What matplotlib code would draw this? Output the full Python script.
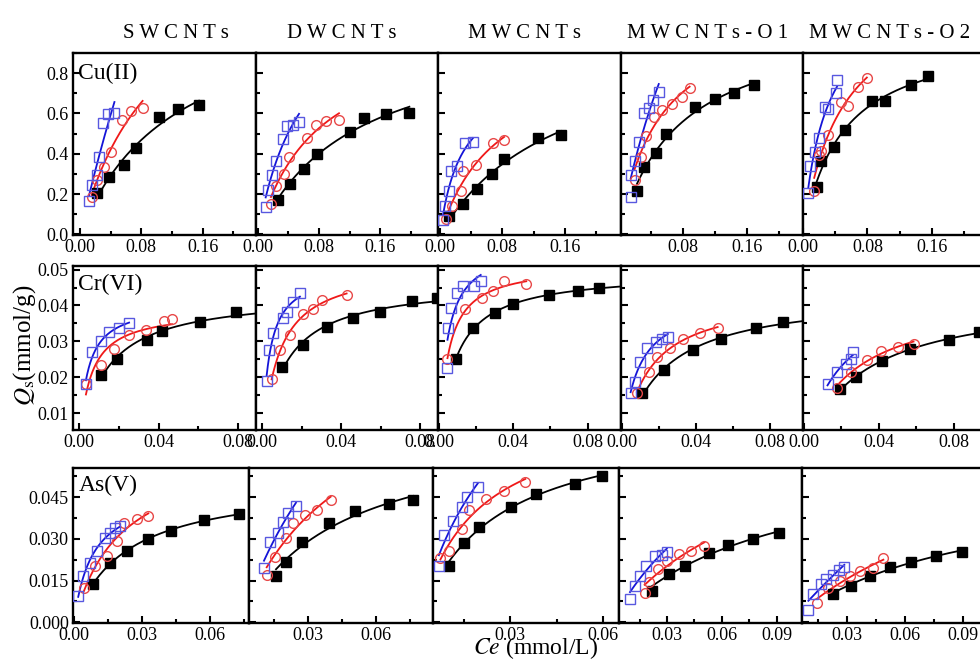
import numpy as np
import matplotlib.pyplot as plt
from matplotlib.ticker import MultipleLocator, FormatStrFormatter

plt.rcParams['font.family'] = 'Liberation Serif'
plt.rcParams['mathtext.fontset'] = 'stix'

tubes = ['S W C N T s', 'D W C N T s', 'M W C N T s', 'M W C N T s - O 1', 'M W C N T s - O 2']
ions = ['Cu(II)', 'Cr(VI)', 'As(V)']

# Ce (mmol/L) and Qs (mmol/g), one inner list per tube type
cu_black_x = [[0.0227, 0.038, 0.0577, 0.073, 0.1036, 0.1276, 0.1551],
              [0.0267, 0.042, 0.0608, 0.077, 0.1207, 0.1394, 0.1679, 0.1985],
              [0.012, 0.030, 0.0474, 0.0663, 0.0822, 0.126, 0.1555],
              [0.0225, 0.0313, 0.0466, 0.0585, 0.0949, 0.12, 0.144, 0.1686],
              [0.017, 0.0226, 0.0388, 0.0523, 0.0858, 0.102, 0.1338, 0.1555]]
cu_black_y = [[0.206, 0.283, 0.346, 0.428, 0.581, 0.621, 0.641],
              [0.169, 0.252, 0.326, 0.398, 0.510, 0.576, 0.598, 0.604],
              [0.090, 0.152, 0.226, 0.300, 0.375, 0.478, 0.495],
              [0.214, 0.332, 0.403, 0.499, 0.634, 0.670, 0.700, 0.741],
              [0.234, 0.365, 0.436, 0.519, 0.662, 0.662, 0.741, 0.785]]
cu_red_x = [[0.0153, 0.0227, 0.0315, 0.0402, 0.0555, 0.066, 0.0817],
            [0.017, 0.0236, 0.034, 0.041, 0.0647, 0.076, 0.0892, 0.1062],
            [0.0075, 0.0152, 0.0265, 0.030, 0.046, 0.0677, 0.0822],
            [0.0194, 0.0273, 0.0333, 0.0435, 0.0536, 0.0668, 0.0786, 0.0883],
            [0.0139, 0.0196, 0.0226, 0.0313, 0.0466, 0.0553, 0.0683, 0.0793]]
cu_red_y = [[0.186, 0.272, 0.332, 0.411, 0.568, 0.612, 0.626],
            [0.152, 0.239, 0.301, 0.384, 0.478, 0.543, 0.563, 0.568],
            [0.074, 0.140, 0.214, 0.313, 0.346, 0.453, 0.469],
            [0.272, 0.384, 0.490, 0.584, 0.617, 0.647, 0.683, 0.724],
            [0.214, 0.395, 0.416, 0.494, 0.655, 0.639, 0.732, 0.774]]
cu_blue_x = [[0.0118, 0.0161, 0.0227, 0.0249, 0.0306, 0.0371, 0.045],
             [0.0101, 0.0135, 0.0188, 0.0236, 0.0323, 0.0376, 0.0463, 0.0538],
             [0.0039, 0.006, 0.012, 0.0142, 0.0219, 0.0324, 0.0423],
             [0.0146, 0.0150, 0.0204, 0.0256, 0.0313, 0.037, 0.0431, 0.0497],
             [0.0065, 0.0087, 0.0153, 0.0196, 0.027, 0.0313, 0.0413, 0.0422]]
cu_blue_y = [[0.165, 0.247, 0.296, 0.384, 0.555, 0.598, 0.604],
             [0.137, 0.222, 0.296, 0.365, 0.474, 0.540, 0.543, 0.560],
             [0.069, 0.140, 0.214, 0.313, 0.341, 0.453, 0.456],
             [0.186, 0.296, 0.362, 0.456, 0.604, 0.626, 0.667, 0.708],
             [0.206, 0.341, 0.411, 0.477, 0.634, 0.621, 0.700, 0.765]]

cr_black_x = [[0.011, 0.0193, 0.034, 0.0418, 0.061, 0.079],
              [0.0100, 0.0206, 0.0327, 0.0461, 0.0596, 0.0761, 0.0883],
              [0.0093, 0.0181, 0.030, 0.0398, 0.0592, 0.0748, 0.0859],
              [0.011, 0.0229, 0.0385, 0.0536, 0.0722, 0.0868],
              [0.0195, 0.028, 0.0417, 0.0567, 0.0777, 0.0936]]
cr_black_y = [[0.0207, 0.0252, 0.0304, 0.0329, 0.0353, 0.0381],
              [0.0229, 0.0291, 0.0339, 0.0364, 0.0381, 0.0413, 0.0422],
              [0.0251, 0.0338, 0.0378, 0.0403, 0.0429, 0.0441, 0.0450],
              [0.0157, 0.022, 0.0276, 0.0306, 0.0336, 0.0355],
              [0.0168, 0.0201, 0.0245, 0.0278, 0.0304, 0.0327]]
cr_red_x = [[0.0035, 0.011, 0.0177, 0.0252, 0.0335, 0.0427, 0.0468],
            [0.0049, 0.0091, 0.0142, 0.0206, 0.026, 0.0302, 0.0428],
            [0.0046, 0.014, 0.023, 0.0291, 0.0351, 0.047],
            [0.0081, 0.0148, 0.0191, 0.0262, 0.0328, 0.0423, 0.0517],
            [0.0176, 0.0251, 0.0336, 0.0411, 0.0505, 0.0586]]
cr_red_y = [[0.0182, 0.0234, 0.0278, 0.0317, 0.0331, 0.0357, 0.0362],
            [0.0195, 0.0276, 0.0318, 0.0376, 0.0389, 0.0415, 0.0429],
            [0.0251, 0.0389, 0.0422, 0.0439, 0.0467, 0.0459],
            [0.0157, 0.0215, 0.0257, 0.0282, 0.0306, 0.0322, 0.0338],
            [0.017, 0.0215, 0.0248, 0.0272, 0.0285, 0.0294]]
cr_blue_x = [[0.0035, 0.0068, 0.011, 0.0152, 0.0202, 0.0252],
             [0.0024, 0.0037, 0.0057, 0.0105, 0.0125, 0.0158, 0.0192],
             [0.0046, 0.0049, 0.0064, 0.0099, 0.013, 0.0187, 0.0225],
             [0.0047, 0.0072, 0.0096, 0.0138, 0.0185, 0.0214, 0.0248],
             [0.0126, 0.0176, 0.0224, 0.0251, 0.0261]]
cr_blue_y = [[0.0182, 0.0269, 0.0302, 0.0325, 0.0337, 0.035],
             [0.0189, 0.0276, 0.0322, 0.0366, 0.0383, 0.0411, 0.0434],
             [0.0225, 0.0336, 0.0394, 0.0434, 0.0453, 0.0453, 0.0468],
             [0.0157, 0.0187, 0.0243, 0.0282, 0.0299, 0.0306, 0.0313],
             [0.018, 0.0215, 0.0238, 0.0252, 0.0271]]

as_black_x = [[0.0085, 0.0159, 0.0232, 0.0325, 0.0428, 0.0575, 0.0729],
              [0.0159, 0.0203, 0.0272, 0.0394, 0.0507, 0.0657, 0.0764],
              [0.0102, 0.0148, 0.0199, 0.0302, 0.0382, 0.0508, 0.0597],
              [0.0217, 0.0309, 0.04, 0.0529, 0.0634, 0.0768, 0.0912],
              [0.0229, 0.0319, 0.0419, 0.0523, 0.0631, 0.076, 0.0897]]
as_black_y = [[0.0138, 0.0212, 0.0257, 0.0299, 0.033, 0.0367, 0.0389],
              [0.0168, 0.0215, 0.0287, 0.0356, 0.04, 0.0425, 0.0439],
              [0.0204, 0.0285, 0.0344, 0.0415, 0.0463, 0.0499, 0.0525],
              [0.0112, 0.0175, 0.0204, 0.0249, 0.0279, 0.0299, 0.032],
              [0.01, 0.013, 0.0168, 0.0199, 0.0217, 0.0239, 0.0253]]
as_red_x = [[0.0044, 0.0093, 0.0144, 0.0188, 0.0221, 0.0277, 0.0328],
            [0.0118, 0.0154, 0.0203, 0.0235, 0.0287, 0.0341, 0.04],
            [0.0073, 0.0102, 0.0142, 0.0167, 0.022, 0.0279, 0.0348],
            [0.0178, 0.0203, 0.0251, 0.0299, 0.0366, 0.0433, 0.0504],
            [0.0146, 0.0203, 0.0264, 0.0316, 0.0367, 0.0436, 0.0488]]
as_red_y = [[0.0124, 0.0201, 0.0237, 0.0294, 0.0356, 0.0371, 0.0383],
            [0.0171, 0.0235, 0.0303, 0.0358, 0.0386, 0.0404, 0.0439],
            [0.0231, 0.0258, 0.0335, 0.0404, 0.0442, 0.0473, 0.0505],
            [0.0104, 0.0144, 0.0192, 0.0219, 0.0246, 0.0258, 0.0275],
            [0.0068, 0.0124, 0.0148, 0.0165, 0.0183, 0.0195, 0.0231]]
as_blue_x = [[0.0019, 0.0038, 0.0071, 0.0103, 0.0137, 0.0159, 0.0181, 0.0203],
             [0.0106, 0.0132, 0.0169, 0.0188, 0.0213, 0.0247],
             [0.0068, 0.0085, 0.0113, 0.0142, 0.0159, 0.0194],
             [0.0098, 0.0127, 0.0155, 0.0184, 0.0232, 0.0271, 0.0299],
             [0.010, 0.0123, 0.0164, 0.0191, 0.0229, 0.026, 0.0286]]
as_blue_y = [[0.0096, 0.0168, 0.0213, 0.0255, 0.0303, 0.0321, 0.0338, 0.0346],
             [0.0195, 0.0287, 0.032, 0.0362, 0.0394, 0.0418],
             [0.0201, 0.0314, 0.0365, 0.0413, 0.0451, 0.0487],
             [0.0082, 0.013, 0.0168, 0.0201, 0.0237, 0.0243, 0.0251],
             [0.0044, 0.010, 0.0136, 0.0156, 0.0171, 0.0187, 0.0199]]

# axis ranges
cu_xlim = [(-0.009, 0.2295), (-0.0026, 0.236), (-0.0026, 0.2323), (0.0025, 0.23), (0.0, 0.226)]
cr_xlim = [(-0.003, 0.089), (-0.003, 0.089), (-0.0005, 0.098), (-0.0005, 0.0978), (-0.0005, 0.0968)]
as_xlim = [(-0.0004, 0.0772), (0.004, 0.0851), (0.0049, 0.0652), (0.0038, 0.1037), (0.0067, 0.1014)]
ylims = [(-0.003, 0.9), (0.0053, 0.051), (-0.0003, 0.0555)]
x_major = [0.08, 0.04, 0.03]
y_major = [0.2, 0.01, 0.015]
y_fmt = ['%.1f', '%.2f', '%.3f']

rows = [
    (cu_black_x, cu_black_y, cu_red_x, cu_red_y, cu_blue_x, cu_blue_y, cu_xlim),
    (cr_black_x, cr_black_y, cr_red_x, cr_red_y, cr_blue_x, cr_blue_y, cr_xlim),
    (as_black_x, as_black_y, as_red_x, as_red_y, as_blue_x, as_blue_y, as_xlim),
]

W, H = 980, 662
row_px = [(53, 235), (266, 430), (468, 623)]
col_px = [[73, 256, 438, 621, 803, 985],
          [73, 256, 438, 621, 803, 985],
          [73, 249, 433, 619, 802, 985]]

BLACK, RED, BLUE = 'black', '#f01818', '#1414d8'
RED_PT, BLUE_PT = '#e84848', '#5858e0'

K_GRID = np.logspace(-1, 5, 3000)


def langmuir(ax, x, y, color, x_end=None):
    # least-squares Langmuir isotherm q = qm*K*Ce/(1+K*Ce): scan K, solve qm
    x = np.asarray(x)
    y = np.asarray(y)
    best = None
    for k in K_GRID:
        f = k * x / (1 + k * x)
        qm = f.dot(y) / f.dot(f)
        err = ((qm * f - y) ** 2).sum()
        if best is None or err < best[0]:
            best = (err, k, qm)
    _, k, qm = best
    end = x.max() if x_end is None else x_end
    xs = np.linspace(x.min(), end, 200)
    ax.plot(xs, qm * k * xs / (1 + k * xs), color=color, lw=1.3, zorder=2)


fig = plt.figure(figsize=(W / 100, H / 100), dpi=100)

for r, (bx, by, rx, ry, ux, uy, xlims) in enumerate(rows):
    top, bot = row_px[r]
    for c in range(5):
        left, right = col_px[r][c], col_px[r][c + 1]
        ax = fig.add_axes([left / W, 1 - bot / H, (right - left) / W, (bot - top) / H])
        ax.set_xlim(*xlims[c])
        ax.set_ylim(*ylims[r])

        x_end = xlims[c][1] if r == 1 else None
        langmuir(ax, bx[c], by[c], BLACK, x_end)
        langmuir(ax, rx[c], ry[c], RED)
        langmuir(ax, ux[c], uy[c], BLUE)
        ax.plot(bx[c], by[c], 's', color=BLACK, ms=6.5, zorder=3, clip_on=False)
        ax.plot(rx[c], ry[c], 'o', mfc='none', mec=RED_PT, mew=1.0, ms=7, zorder=3)
        ax.plot(ux[c], uy[c], 's', mfc='none', mec=BLUE_PT, mew=1.0, ms=6.5, zorder=4)

        ax.xaxis.set_major_locator(MultipleLocator(x_major[r]))
        ax.xaxis.set_minor_locator(MultipleLocator(x_major[r] / 2))
        ax.yaxis.set_major_locator(MultipleLocator(y_major[r]))
        ax.yaxis.set_minor_locator(MultipleLocator(y_major[r] / 2))
        ax.xaxis.set_major_formatter(FormatStrFormatter('%.2f'))
        ax.yaxis.set_major_formatter(FormatStrFormatter(y_fmt[r]))
        ax.tick_params(which='both', direction='in', top=False, right=False,
                       width=1.5, labelsize=13)
        ax.tick_params(which='major', length=5, pad=3)
        ax.tick_params(which='minor', length=3)
        if c > 0:
            ax.tick_params(labelleft=False)
        for s in ax.spines.values():
            s.set_linewidth(1.7)

        if c == 0:
            ax.text(0.03, 0.89, ions[r], transform=ax.transAxes, fontsize=17,
                    ha='left', va='center')

# column titles
title_x = [176, 342, 525, 708, 890]
for name, tx in zip(tubes, title_x):
    fig.text(tx / W, 1 - 33 / H, name, fontsize=15, ha='center', va='center')

fig.text(25 / W, 1 - 345 / H, r'$Q_{\mathrm{s}}$(mmol/g)', fontsize=18,
         rotation=90, ha='center', va='center')
fig.text(536 / W, 1 - 648 / H, r'$Ce$ (mmol/L)', fontsize=17,
         ha='center', va='center')

fig.savefig('out.png', dpi=100)
